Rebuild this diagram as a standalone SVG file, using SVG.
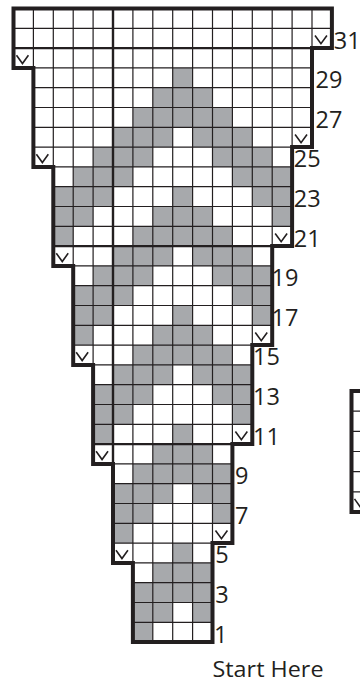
<svg xmlns="http://www.w3.org/2000/svg" width="360" height="683" viewBox="0 0 360 683">
<style>
.thin{fill:none;stroke:#231f20;stroke-width:1.2;vector-effect:non-scaling-stroke}
.mid{fill:none;stroke:#231f20;stroke-width:2.4;vector-effect:non-scaling-stroke}
.out{fill:none;stroke:#231f20;stroke-width:4;stroke-linejoin:miter;vector-effect:non-scaling-stroke}
.g{fill:#a7a9ac}
.v{fill:none;stroke:#231f20;stroke-width:1.6;vector-effect:non-scaling-stroke}
.num{font-family:"Open Sans","Liberation Sans",sans-serif;font-size:23.5px;fill:#231f20}
.cap{font-family:"Open Sans","Liberation Sans",sans-serif;font-size:22.5px;fill:#231f20}
</style>
<defs>
<path id="v" class="v" d="M0.15,0.36 L0.45,0.78 L0.75,0.36"/>
</defs>
<rect width="360" height="683" fill="#fff"/>
<g id="chart" transform="translate(13.5 8.5) scale(19.9 19.8)">
<path id="shading" class="g" d="M8 3h1v1h-1z M7 4h3v1h-3z M6 5h5v1h-5z M5 6h3v1h-3z M9 6h3v1h-3z M4 7h3v1h-3z M10 7h3v1h-3z M3 8h3v1h-3z M11 8h3v1h-3z M2 9h3v1h-3z M8 9h1v1h-1z M12 9h2v1h-2z M2 10h2v1h-2z M7 10h3v1h-3z M13 10h1v1h-1z M2 11h1v1h-1z M6 11h5v1h-5z M5 12h3v1h-3z M9 12h3v1h-3z M4 13h3v1h-3z M10 13h3v1h-3z M3 14h3v1h-3z M11 14h2v1h-2z M3 15h2v1h-2z M8 15h1v1h-1z M12 15h1v1h-1z M3 16h1v1h-1z M7 16h3v1h-3z M6 17h5v1h-5z M5 18h3v1h-3z M9 18h3v1h-3z M4 19h3v1h-3z M10 19h2v1h-2z M4 20h2v1h-2z M11 20h1v1h-1z M4 21h1v1h-1z M8 21h1v1h-1z M7 22h3v1h-3z M6 23h5v1h-5z M5 24h3v1h-3z M9 24h2v1h-2z M5 25h2v1h-2z M10 25h1v1h-1z M5 26h1v1h-1z M8 27h1v1h-1z M7 28h3v1h-3z M6 29h4v1h-4z M6 30h2v1h-2z M9 30h1v1h-1z M6 31h1v1h-1z"/>
<path id="grid" class="thin" d="M0 1H16 M0 3H15 M1 4H15 M1 5H15 M1 6H15 M1 7H15 M1 8H14 M2 9H14 M2 10H14 M2 11H14 M2 13H13 M3 14H13 M3 15H13 M3 16H13 M3 17H13 M3 18H12 M4 19H12 M4 20H12 M4 21H12 M4 23H11 M5 24H11 M5 25H11 M5 26H11 M5 27H11 M5 28H10 M6 29H10 M6 30H10 M6 31H10 M1 0V3 M2 0V8 M3 0V13 M4 0V18 M6 0V28 M7 0V32 M8 0V32 M9 0V32 M10 0V28 M11 0V22 M12 0V17 M13 0V12 M14 0V7 M15 0V2"/>
<path id="tens" class="mid" d="M0 2H16 M2 12H14 M4 22H12 M5 0V23"/>
<g id="decreases">
<use href="#v" x="15" y="1"/>
<use href="#v" x="0" y="2"/>
<use href="#v" x="14" y="6"/>
<use href="#v" x="1" y="7"/>
<use href="#v" x="13" y="11"/>
<use href="#v" x="2" y="12"/>
<use href="#v" x="12" y="16"/>
<use href="#v" x="3" y="17"/>
<use href="#v" x="11" y="21"/>
<use href="#v" x="4" y="22"/>
<use href="#v" x="10" y="26"/>
<use href="#v" x="5" y="27"/>
</g>
<path id="outline" class="out" d="M0 0H16V2H15V7H14V12H13V17H12V22H11V27H10V32H6V28H5V23H4V18H3V13H2V8H1V3H0Z"/>
</g>
<g id="legend">
<path class="thin" d="M351.5 411.2H362 M351.5 431.3H362 M351.5 451.5H362 M351.5 471.7H362 M351.5 491.8H362"/>
<path fill="none" stroke="#231f20" stroke-width="4" d="M364 391H351.5V512H364"/>
<path class="v" d="M354.5 498.9L360.5 507.4L366.5 498.9"/>
</g>
<g id="row-numbers" class="num">
<text x="333.8" y="48.6">31</text>
<text x="315.5" y="88.2">29</text>
<text x="315.5" y="127.8">27</text>
<text x="293.8" y="167.4">25</text>
<text x="293.8" y="207">23</text>
<text x="293.8" y="246.6">21</text>
<text x="271.5" y="286.2">19</text>
<text x="271.5" y="325.8">17</text>
<text x="253" y="365.4">15</text>
<text x="253" y="405">13</text>
<text x="253" y="444.6">11</text>
<text x="235" y="484.2">9</text>
<text x="235" y="523.8">7</text>
<text x="215.3" y="563.4">5</text>
<text x="215.3" y="603">3</text>
<text x="214" y="642.6">1</text>
</g>
<text id="start" class="cap" x="212.5" y="676.5" textLength="111" lengthAdjust="spacingAndGlyphs">Start Here</text>
</svg>
